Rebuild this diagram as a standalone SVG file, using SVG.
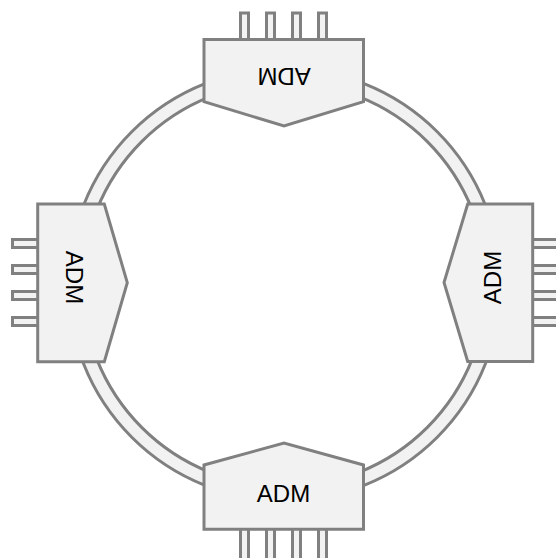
<svg xmlns="http://www.w3.org/2000/svg" width="556" height="558" viewBox="0 0 556 558">
<style>
.shape{fill:#f2f2f2;stroke:#808080;stroke-width:3;stroke-linejoin:miter}
.pin{fill:#f2f2f2;stroke:#808080;stroke-width:3}
.lbl{font-family:"Liberation Sans",Arial,sans-serif;font-size:24px;fill:#000;text-anchor:middle}
</style>
<rect width="556" height="558" fill="#ffffff"/>
<g id="connectors">
<circle cx="284.5" cy="284.5" r="209" fill="none" stroke="#808080" stroke-width="17"/>
<circle cx="284.5" cy="284.5" r="209" fill="none" stroke="#f2f2f2" stroke-width="11"/>
</g>
<g id="adm-top">
<rect class="pin" x="240.5" y="13" width="8" height="28"/>
<rect class="pin" x="266.5" y="13" width="8" height="28"/>
<rect class="pin" x="292.5" y="13" width="8" height="28"/>
<rect class="pin" x="318.5" y="13" width="8" height="28"/>
<polygon class="shape" points="204,39.5 363.5,39.5 363.5,101.7 284,126 204,101.7"/>
<text class="lbl" transform="translate(284.2,76.7) rotate(180)" x="0" y="8.6">ADM</text>
</g>
<g id="adm-bottom">
<rect class="pin" x="240.5" y="528" width="8" height="40"/>
<rect class="pin" x="266.5" y="528" width="8" height="40"/>
<rect class="pin" x="292.5" y="528" width="8" height="40"/>
<rect class="pin" x="318.5" y="528" width="8" height="40"/>
<polygon class="shape" points="204,529.3 363.5,529.3 363.5,465 284,443 204,465"/>
<text class="lbl" x="283.5" y="502">ADM</text>
</g>
<g id="adm-left">
<rect class="pin" x="12.5" y="239.5" width="27" height="8"/>
<rect class="pin" x="12.5" y="265.5" width="27" height="8"/>
<rect class="pin" x="12.5" y="291.5" width="27" height="8"/>
<rect class="pin" x="12.5" y="317.5" width="27" height="8"/>
<polygon class="shape" points="37.7,204 104.3,204 127.3,282.7 104.3,361.7 37.7,361.7"/>
<text class="lbl" transform="translate(74.2,277.5) rotate(90)" x="0" y="8.6">ADM</text>
</g>
<g id="adm-right">
<rect class="pin" x="531" y="239.5" width="30" height="8"/>
<rect class="pin" x="531" y="265.5" width="30" height="8"/>
<rect class="pin" x="531" y="291.5" width="30" height="8"/>
<rect class="pin" x="531" y="317.5" width="30" height="8"/>
<polygon class="shape" points="532.7,204 467.7,204 444,282.5 467.7,361.5 532.7,361.5"/>
<text class="lbl" transform="translate(492.5,277.5) rotate(-90)" x="0" y="8.6">ADM</text>
</g>
</svg>
